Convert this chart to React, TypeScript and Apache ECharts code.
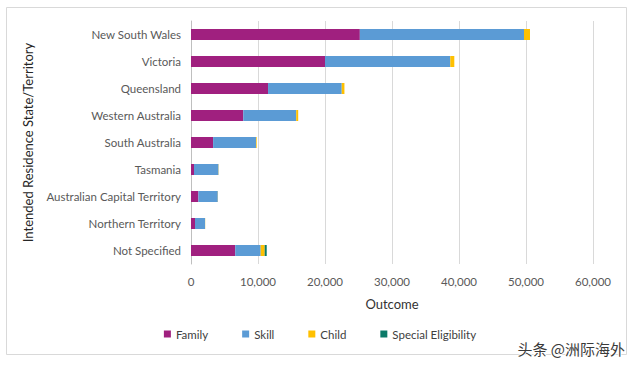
import React, { useEffect, useRef } from "react";
import * as echarts from "echarts";

const categories = [
  "New South Wales",
  "Victoria",
  "Queensland",
  "Western Australia",
  "South Australia",
  "Tasmania",
  "Australian Capital Territory",
  "Northern Territory",
  "Not Specified",
];
const family = [25200, 20000, 11500, 7800, 3300, 450, 1100, 600, 6600];
const skill = [24500, 18700, 11000, 7900, 6400, 3650, 2900, 1500, 3800];
const child = [900, 600, 400, 300, 100, 30, 20, 20, 600];
const special = [0, 0, 0, 0, 0, 0, 0, 0, 300];
const xTicks = { min: 0, max: 60000, interval: 10000 };

const FONT = "Lato";

export default function App() {
  const ref = useRef<HTMLDivElement>(null);
  useEffect(() => {
    document.body.style.margin = "0";
    const chart = echarts.init(ref.current!, undefined, { renderer: "svg" });
    const mk = (name: string, data: number[], color: string) => ({
      name,
      type: "bar",
      stack: "total",
      data,
      barWidth: 11,
      itemStyle: { color },
    });
    chart.setOption({
      animation: false,
      textStyle: { fontFamily: FONT },
      grid: { left: 191, right: 47, top: 21, bottom: 104, containLabel: false },
      xAxis: {
        type: "value",
        min: xTicks.min,
        max: xTicks.max,
        interval: xTicks.interval,
        name: "Outcome",
        nameLocation: "middle",
        nameGap: 33,
        nameTextStyle: { color: "#333333", fontSize: 13, fontFamily: FONT },
        axisLine: { show: false },
        axisTick: { show: false },
        axisLabel: {
          color: "#595959",
          fontSize: 11.5,
          margin: 11,
          formatter: (v: number) => v.toLocaleString("en-US"),
        },
        splitLine: { lineStyle: { color: "#d9d9d9", width: 1 } },
      },
      yAxis: {
        type: "category",
        data: categories,
        inverse: true,
        name: "Intended Residence State/Territory",
        nameLocation: "middle",
        nameGap: 157,
        nameRotate: 90,
        nameTextStyle: { color: "#262626", fontSize: 13, fontFamily: FONT },
        axisLine: { show: true, lineStyle: { color: "#bfbfbf" } },
        axisTick: { show: false },
        axisLabel: { color: "#595959", fontSize: 11.5, margin: 10 },
      },
      legend: {
        left: "center",
        top: 323,
        icon: "rect",
        itemWidth: 7,
        itemHeight: 7,
        itemGap: 34,
        textStyle: { color: "#404040", fontSize: 11.5, fontFamily: FONT },
        data: ["Family", "Skill", "Child", "Special Eligibility"],
      },
      graphic: [
        {
          type: "rect",
          shape: { x: 6.5, y: 7.5, width: 620, height: 347 },
          style: { fill: "none", stroke: "#d9d9d9", lineWidth: 1 },
          silent: true,
        },
        {
          type: "text",
          right: 14,
          top: 340,
          style: {
            text: "头条 @洲际海外",
            fontFamily: "Noto Sans CJK SC",
            fontSize: 15,
            fill: "#3a3a3a",
            stroke: "#ffffff",
            lineWidth: 2,
          },
        },
      ],
      series: [
        mk("Family", family, "#A0207F"),
        mk("Skill", skill, "#5B9BD5"),
        mk("Child", child, "#FFC000"),
        mk("Special Eligibility", special, "#0B7A68"),
      ],
    });
    return () => chart.dispose();
  }, []);
  return <div ref={ref} style={{ width: 640, height: 368 }} />;
}
